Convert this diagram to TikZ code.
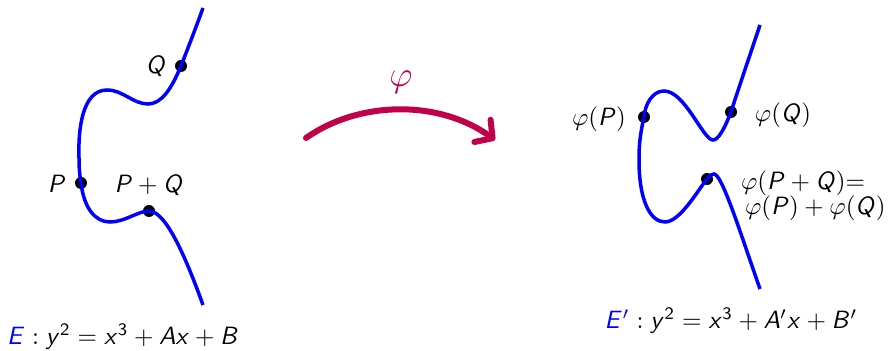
\documentclass[tikz,border=0pt]{standalone}
\usetikzlibrary{arrows.meta}
\DeclareMathAlphabet{\mathsfit}{OT1}{cmss}{m}{sl}
\newcommand{\sv}[1]{\mathsfit{#1}}
\newcommand{\sn}[1]{\mathsf{#1}}
\definecolor{curveblue}{RGB}{0,0,255}
\definecolor{mapred}{RGB}{192,0,72}
\begin{document}
\begin{tikzpicture}[x=0.4pt,y=-0.4pt,
  every node/.style={font=\fontsize{10}{12}\selectfont, inner sep=1pt},
  dot/.style={circle, fill=black, minimum size=4.8pt, inner sep=0pt},
  curve/.style={draw=curveblue, line width=1.4pt},
  maparrow/.style={draw=mapred, line width=2.4pt, line cap=round,
     -{Straight Barb[length=5pt,width=11pt,round]}}]
\useasboundingbox (0,0) rectangle (893,351);

% ---------- left curve ----------
\coordinate (Ltop) at (203,8);
\node[dot] (Q) at (181,66) {};
\node[dot] (P) at (81,183) {};
\node[dot] (PQ) at (149,211) {};
\coordinate (Lend) at (203,305);
\draw[curve] (Ltop) .. controls (195,30) and (188,48) .. (Q.center)
  .. controls (171,90) and (161,104) .. (148,104)
  .. controls (133,104) and (123,90) .. (107,90)
  .. controls (82,90) and (78,130) .. (79,158)
  .. controls (79,170) and (80,177) .. (P.center)
  .. controls (84,208) and (95,222) .. (110,222)
  .. controls (125,222) and (138,211) .. (PQ.center)
  .. controls (166,211) and (186,258) .. (Lend);
\node (Qlab) at (156,66) {$\sv{Q}$};
\node (Plab) at (57,184) {$\sv{P}$};
\node (PQlab) at (149,185) {$\sv{P}+\sv{Q}$};
\node (Eeq) at (123,337) {$\textcolor{curveblue}{\sv{E}} : \sv{y}^{\sn{2}} = \sv{x}^{\sn{3}} + \sv{A}\sv{x} + \sv{B}$};

% ---------- arrow ----------
\coordinate (As) at (306,138);
\coordinate (Ae) at (495,140);
\draw[maparrow] (As) .. controls (360,100) and (440,100) .. (Ae);
\node[text=mapred, font=\fontsize{15}{18}\selectfont] (phi) at (401,82) {$\varphi$};

% ---------- right curve ----------
\coordinate (Rtop) at (760,25);
\node[dot] (fQ) at (731,112) {};
\node[dot] (fP) at (644,117) {};
\node[dot] (fPQ) at (707,179) {};
\coordinate (Rend) at (760,289);
\draw[curve] (Rtop) .. controls (750,55) and (738,90) .. (fQ.center)
  .. controls (724,130) and (718,140) .. (713,140)
  .. controls (703,140) and (685,91) .. (664,91)
  .. controls (652,91) and (645,105) .. (fP.center)
  .. controls (640,135) and (639,145) .. (639,160)
  .. controls (639,200) and (650,222) .. (665,222)
  .. controls (680,222) and (698,190) .. (fPQ.center)
  .. controls (710,175) and (712,174) .. (714,174)
  .. controls (722,174) and (740,232) .. (Rend);
\node (fPlab) at (599,119) {$\varphi(\sv{P})$};
\node (fQlab) at (783,115) {$\varphi(\sv{Q})$};
\node[anchor=west] (fPQlab1) at (738,183) {$\varphi(\sv{P}+\sv{Q}){=}$};
\node[anchor=west] (fPQlab2) at (742,208) {$\varphi(\sv{P})+\varphi(\sv{Q})$};
\node (Eeq2) at (731,321) {$\textcolor{curveblue}{\sv{E}'} : \sv{y}^{\sn{2}} = \sv{x}^{\sn{3}} + \sv{A}'\sv{x} + \sv{B}'$};
\end{tikzpicture}
\end{document}
